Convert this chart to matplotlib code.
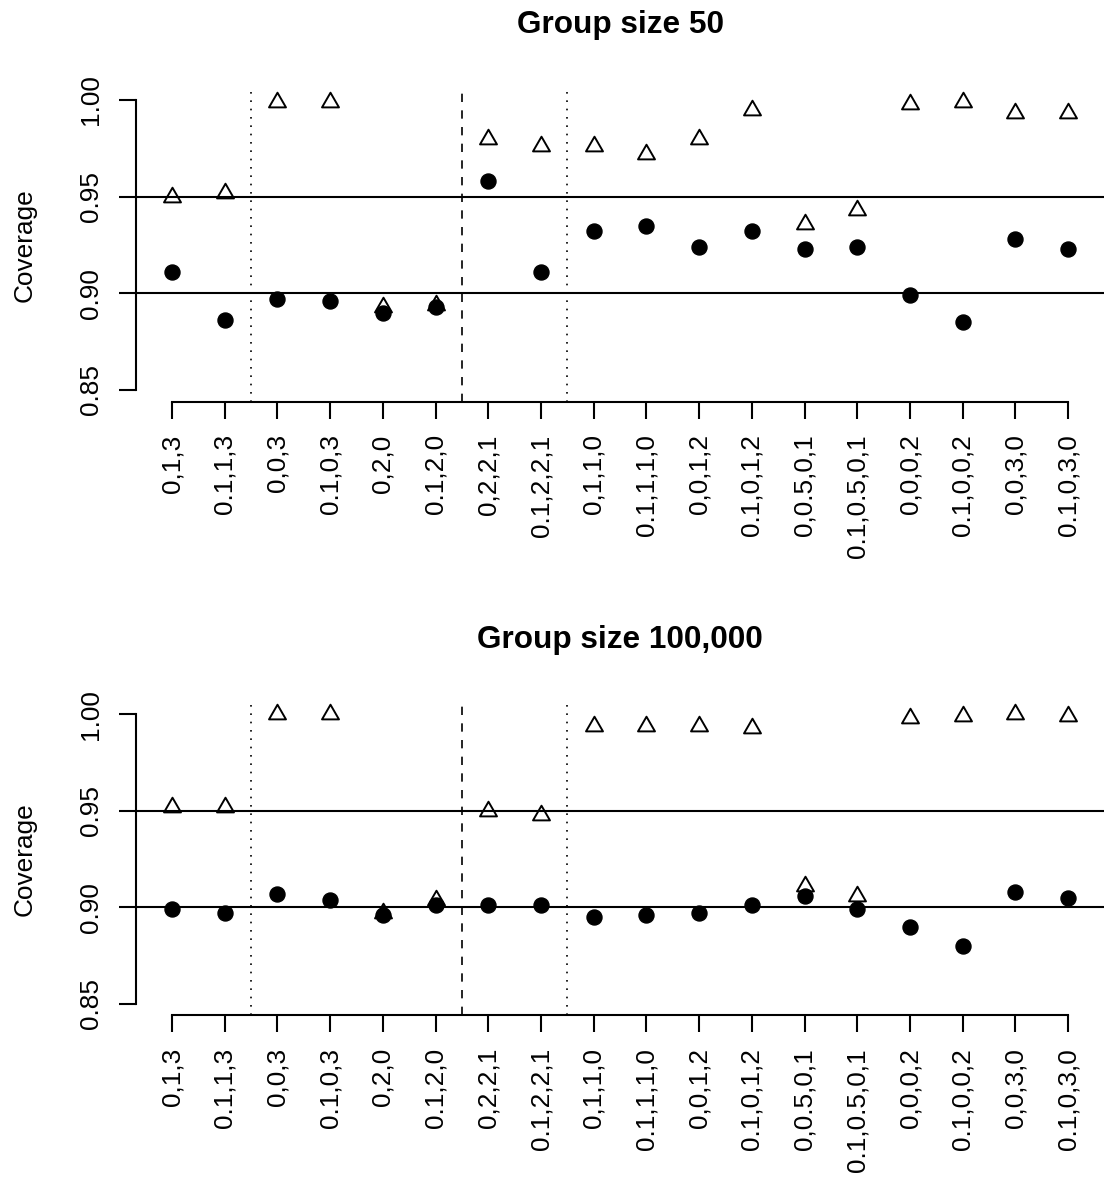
import matplotlib as mpl
mpl.use('Agg')
import matplotlib.pyplot as plt
from matplotlib.path import Path
import numpy as np

plt.rcParams['font.family'] = ['Liberation Sans', 'DejaVu Sans']

labels = ["0,1,3", "0.1,1,3", "0,0,3", "0.1,0,3", "0,2,0", "0.1,2,0",
          "0,2,2,1", "0.1,2,2,1", "0,1,1,0", "0.1,1,1,0", "0,0,1,2", "0.1,0,1,2",
          "0,0.5,0,1", "0.1,0.5,0,1", "0,0,0,2", "0.1,0,0,2", "0,0,3,0", "0.1,0,3,0"]

# group size 50
tri_50 = [0.950, 0.952, 0.999, 0.999, 0.893, 0.894, 0.980, 0.976, 0.976,
          0.972, 0.980, 0.995, 0.936, 0.943, 0.998, 0.999, 0.993, 0.993]
dot_50 = [0.911, 0.886, 0.897, 0.896, 0.890, 0.893, 0.958, 0.911, 0.932,
          0.935, 0.924, 0.932, 0.923, 0.924, 0.899, 0.885, 0.928, 0.923]

# group size 100,000
tri_1e5 = [0.952, 0.952, 1.000, 1.000, 0.897, 0.904, 0.950, 0.948, 0.994,
           0.994, 0.994, 0.993, 0.911, 0.906, 0.998, 0.999, 1.000, 0.999]
dot_1e5 = [0.899, 0.897, 0.907, 0.904, 0.896, 0.901, 0.901, 0.901, 0.895,
           0.896, 0.897, 0.901, 0.906, 0.899, 0.890, 0.880, 0.908, 0.905]

titles = ['Group size 50', 'Group size 100,000']
panels = [(tri_50, dot_50), (tri_1e5, dot_1e5)]

# R-like open triangle, centred on its centroid
tri_marker = Path([(0, 1), (-0.866, -0.5), (0.866, -0.5), (0, 1)],
                  [Path.MOVETO, Path.LINETO, Path.LINETO, Path.CLOSEPOLY])

fs = 18.9
lw = 1.5
x = np.arange(1, len(labels) + 1)

fig = plt.figure(figsize=(11.04, 11.78), dpi=100)
boxes = [[0.1234, 0.6591, 0.8766, 0.2659], [0.1234, 0.1381, 0.8766, 0.2654]]

for i, (tri, dot) in enumerate(panels):
  ax = fig.add_axes(boxes[i])
  ax.set_xlim(0.32, 18.68)
  ax.set_ylim(0.844, 1.006)

  #---- reference lines
  ax.axhline(0.90, color='black', lw=lw, zorder=1)
  ax.axhline(0.95, color='black', lw=lw, zorder=1)
  ax.axvline(2.5, color='black', lw=1.2, linestyle=(0, (1, 4)), zorder=1)
  ax.axvline(6.5, color='black', lw=1.2, linestyle=(0, (5, 5)), zorder=1)
  ax.axvline(8.5, color='black', lw=1.2, linestyle=(0, (1, 4)), zorder=1)

  ax.plot(x, dot, linestyle='none', marker='o', markersize=10.8,
          color='black', zorder=3)
  ax.plot(x, tri, linestyle='none', marker=tri_marker, markersize=14.1,
          markerfacecolor='none', markeredgecolor='black', markeredgewidth=1.4,
          zorder=4)

  #---- axes in R style
  for side in ['top', 'right']:
    ax.spines[side].set_visible(False)
  ax.spines['left'].set_bounds(0.85, 1.0)
  ax.spines['bottom'].set_bounds(1, 18)
  ax.spines['left'].set_linewidth(lw)
  ax.spines['bottom'].set_linewidth(lw)

  ax.set_yticks([0.85, 0.90, 0.95, 1.00])
  ax.set_yticklabels(['0.85', '0.90', '0.95', '1.00'], rotation=90,
                     va='center', ha='right')
  ax.set_xticks(x)
  ax.set_xticklabels(labels, rotation=90, ha='center', va='top')
  ax.tick_params(axis='both', length=12.1, width=lw, labelsize=fs, pad=11.5)

  ax.set_ylabel('Coverage', fontsize=fs)
  ax.yaxis.set_label_coords(-0.103, 0.5)
  ax.set_title(titles[i], fontsize=fs * 1.2, fontweight='bold', pad=39.6)

plt.savefig('out.png', dpi=100)
